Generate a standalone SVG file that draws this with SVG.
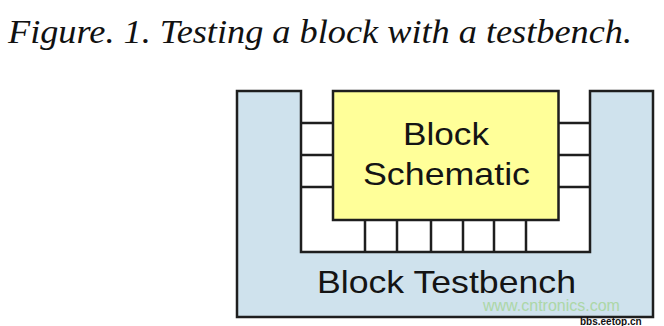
<svg xmlns="http://www.w3.org/2000/svg" width="664" height="326" viewBox="0 0 664 326">
  <style>
    .box { stroke: #1e1e1e; stroke-width: 2.5; stroke-linejoin: miter; }
    .pin { stroke: #1e1e1e; stroke-width: 2.5; fill: none; }
    .lbl { font-family: "Liberation Sans", Arial, sans-serif; font-size: 32px; fill: #141414; text-anchor: middle; }
    .title { font-family: "Liberation Serif", "Times New Roman", serif; font-style: italic; font-size: 33px; fill: #111; }
  </style>
  <rect x="0" y="0" width="664" height="326" fill="#ffffff"/>
  <text class="title" x="8" y="43" textLength="624" lengthAdjust="spacingAndGlyphs">Figure. 1.  Testing a block with a testbench.</text>
  <g id="testbench">
    <path class="box" fill="#cfe2ed" d="M237,91 H301 V252 H590 V91 H653 V317 H237 Z"/>
    <text class="lbl" x="446.5" y="292.5" textLength="259" lengthAdjust="spacingAndGlyphs">Block Testbench</text>
  </g>
  <g id="schematic">
    <rect class="box" x="333" y="91" width="225.5" height="129" fill="#ffff99"/>
    <text class="lbl" x="446" y="145" textLength="86" lengthAdjust="spacingAndGlyphs">Block</text>
    <text class="lbl" x="446.5" y="185" textLength="167" lengthAdjust="spacingAndGlyphs">Schematic</text>
  </g>
  <g id="connectors">
    <path class="pin" d="M301,123 H333 M301,155 H333 M301,187 H333"/>
    <path class="pin" d="M558.5,123 H590 M558.5,155 H590 M558.5,187 H590"/>
    <path class="pin" d="M365,220 V252 M397,220 V252 M431,220 V252 M463,220 V252 M494,220 V252 M526,220 V252"/>
  </g>
  <g id="watermark">
    <text x="483" y="311" font-family="Liberation Sans, Arial, sans-serif" font-size="16" fill="#a9d6a0" opacity="0.9">www.cntronics.com</text>
    <text x="580" y="324.5" font-family="Liberation Sans, Arial, sans-serif" font-size="10" font-weight="bold" fill="#111">bbs.eetop.cn</text>
  </g>
</svg>
